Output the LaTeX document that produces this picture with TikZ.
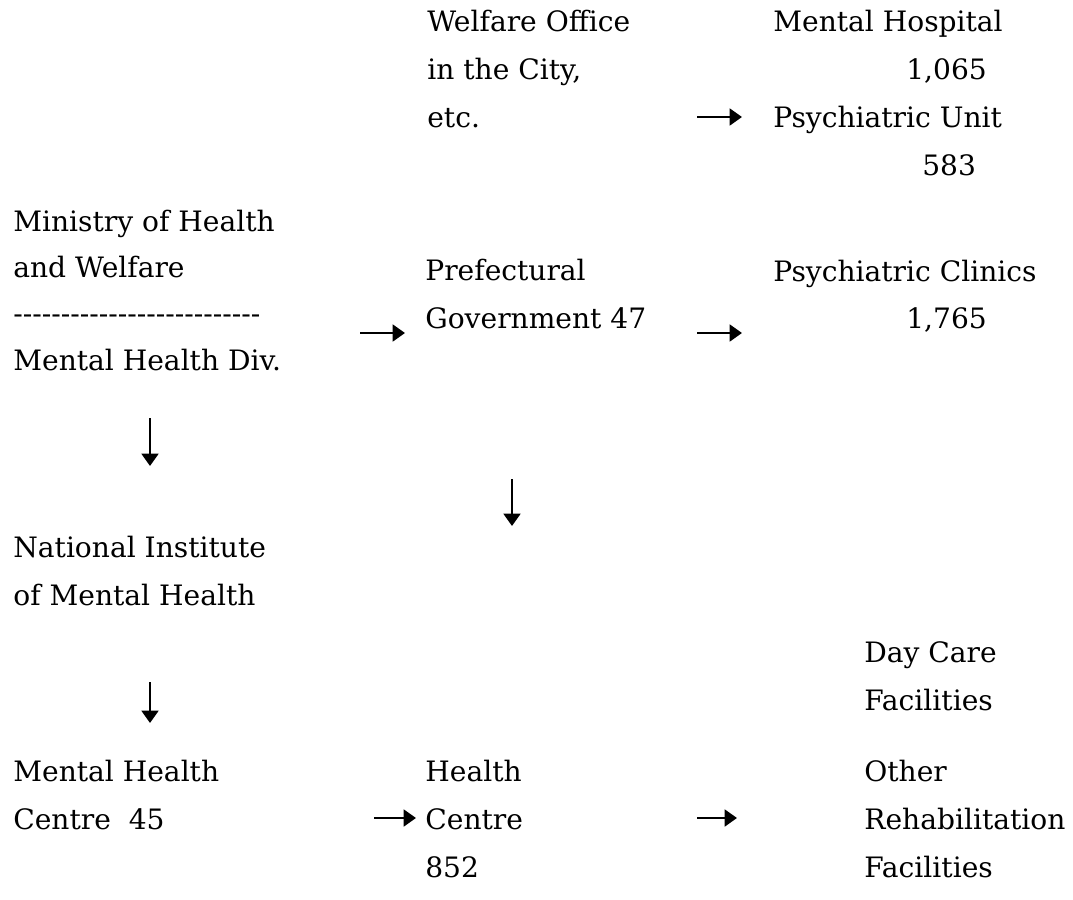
\documentclass[tikz,border=0pt]{standalone}
\usepackage{fontspec}
\setmainfont{DejaVu Serif}
\usetikzlibrary{arrows.meta}
\begin{document}
\begin{tikzpicture}[x=0.02cm,y=-0.02cm,
  lbl/.style={anchor=base west, inner sep=0pt, align=left, font=\fontsize{16}{27.2}\selectfont},
  tight/.style={font=\fontsize{16}{26.3}\selectfont},
  arr/.style={-{Triangle[length=7pt,width=9.5pt]}, line width=1.5pt}]
\useasboundingbox (0,0) rectangle (1073,900);
% top row (anchors at the baseline of the last line)
\node[lbl] (welfare) at (427,127) {Welfare Office\\in the City,\\etc.};
\node[lbl] (hosp) at (773,31) {Mental Hospital};
\node[lbl] (n1065) at (906,79) {1,065};
\node[lbl] (unit) at (773,127) {Psychiatric Unit};
\node[lbl] (n583) at (922,175) {583};
% middle row
\node[lbl,tight] (ministry) at (13,370) {Ministry of Health\\and Welfare\\{-}{-}{-}{-}{-}{-}{-}{-}{-}{-}{-}{-}{-}{-}{-}{-}{-}{-}{-}{-}{-}{-}{-}{-}{-}{-}\\Mental Health Div.};
\node[lbl] (pref) at (425,328) {Prefectural\\Government 47};
\node[lbl] (clinics) at (773,281) {Psychiatric Clinics};
\node[lbl] (n1765) at (906,328) {1,765};
% lower
\node[lbl] (nimh) at (13,605) {National Institute\\of Mental Health};
\node[lbl] (daycare) at (864,710) {Day Care\\Facilities};
\node[lbl] (mhc) at (13,829) {Mental Health\\Centre\ \ 45};
\node[lbl] (hc) at (425,877) {Health\\Centre\\852};
\node[lbl] (other) at (864,877) {Other\\Rehabilitation\\Facilities};
% arrow end points
\coordinate (a1s) at (697,117); \coordinate (a1e) at (742,117);
\coordinate (a2s) at (360,333); \coordinate (a2e) at (405,333);
\coordinate (a3s) at (697,333); \coordinate (a3e) at (742,333);
\coordinate (a4s) at (374,818); \coordinate (a4e) at (416,818);
\coordinate (a5s) at (697,818); \coordinate (a5e) at (737,818);
\coordinate (d1s) at (150,418); \coordinate (d1e) at (150,466);
\coordinate (d2s) at (512,479); \coordinate (d2e) at (512,526);
\coordinate (d3s) at (150,682); \coordinate (d3e) at (150,723);
\draw[arr] (a1s) -- (a1e);
\draw[arr] (a2s) -- (a2e);
\draw[arr] (a3s) -- (a3e);
\draw[arr] (a4s) -- (a4e);
\draw[arr] (a5s) -- (a5e);
\draw[arr] (d1s) -- (d1e);
\draw[arr] (d2s) -- (d2e);
\draw[arr] (d3s) -- (d3e);
\end{tikzpicture}
\end{document}
